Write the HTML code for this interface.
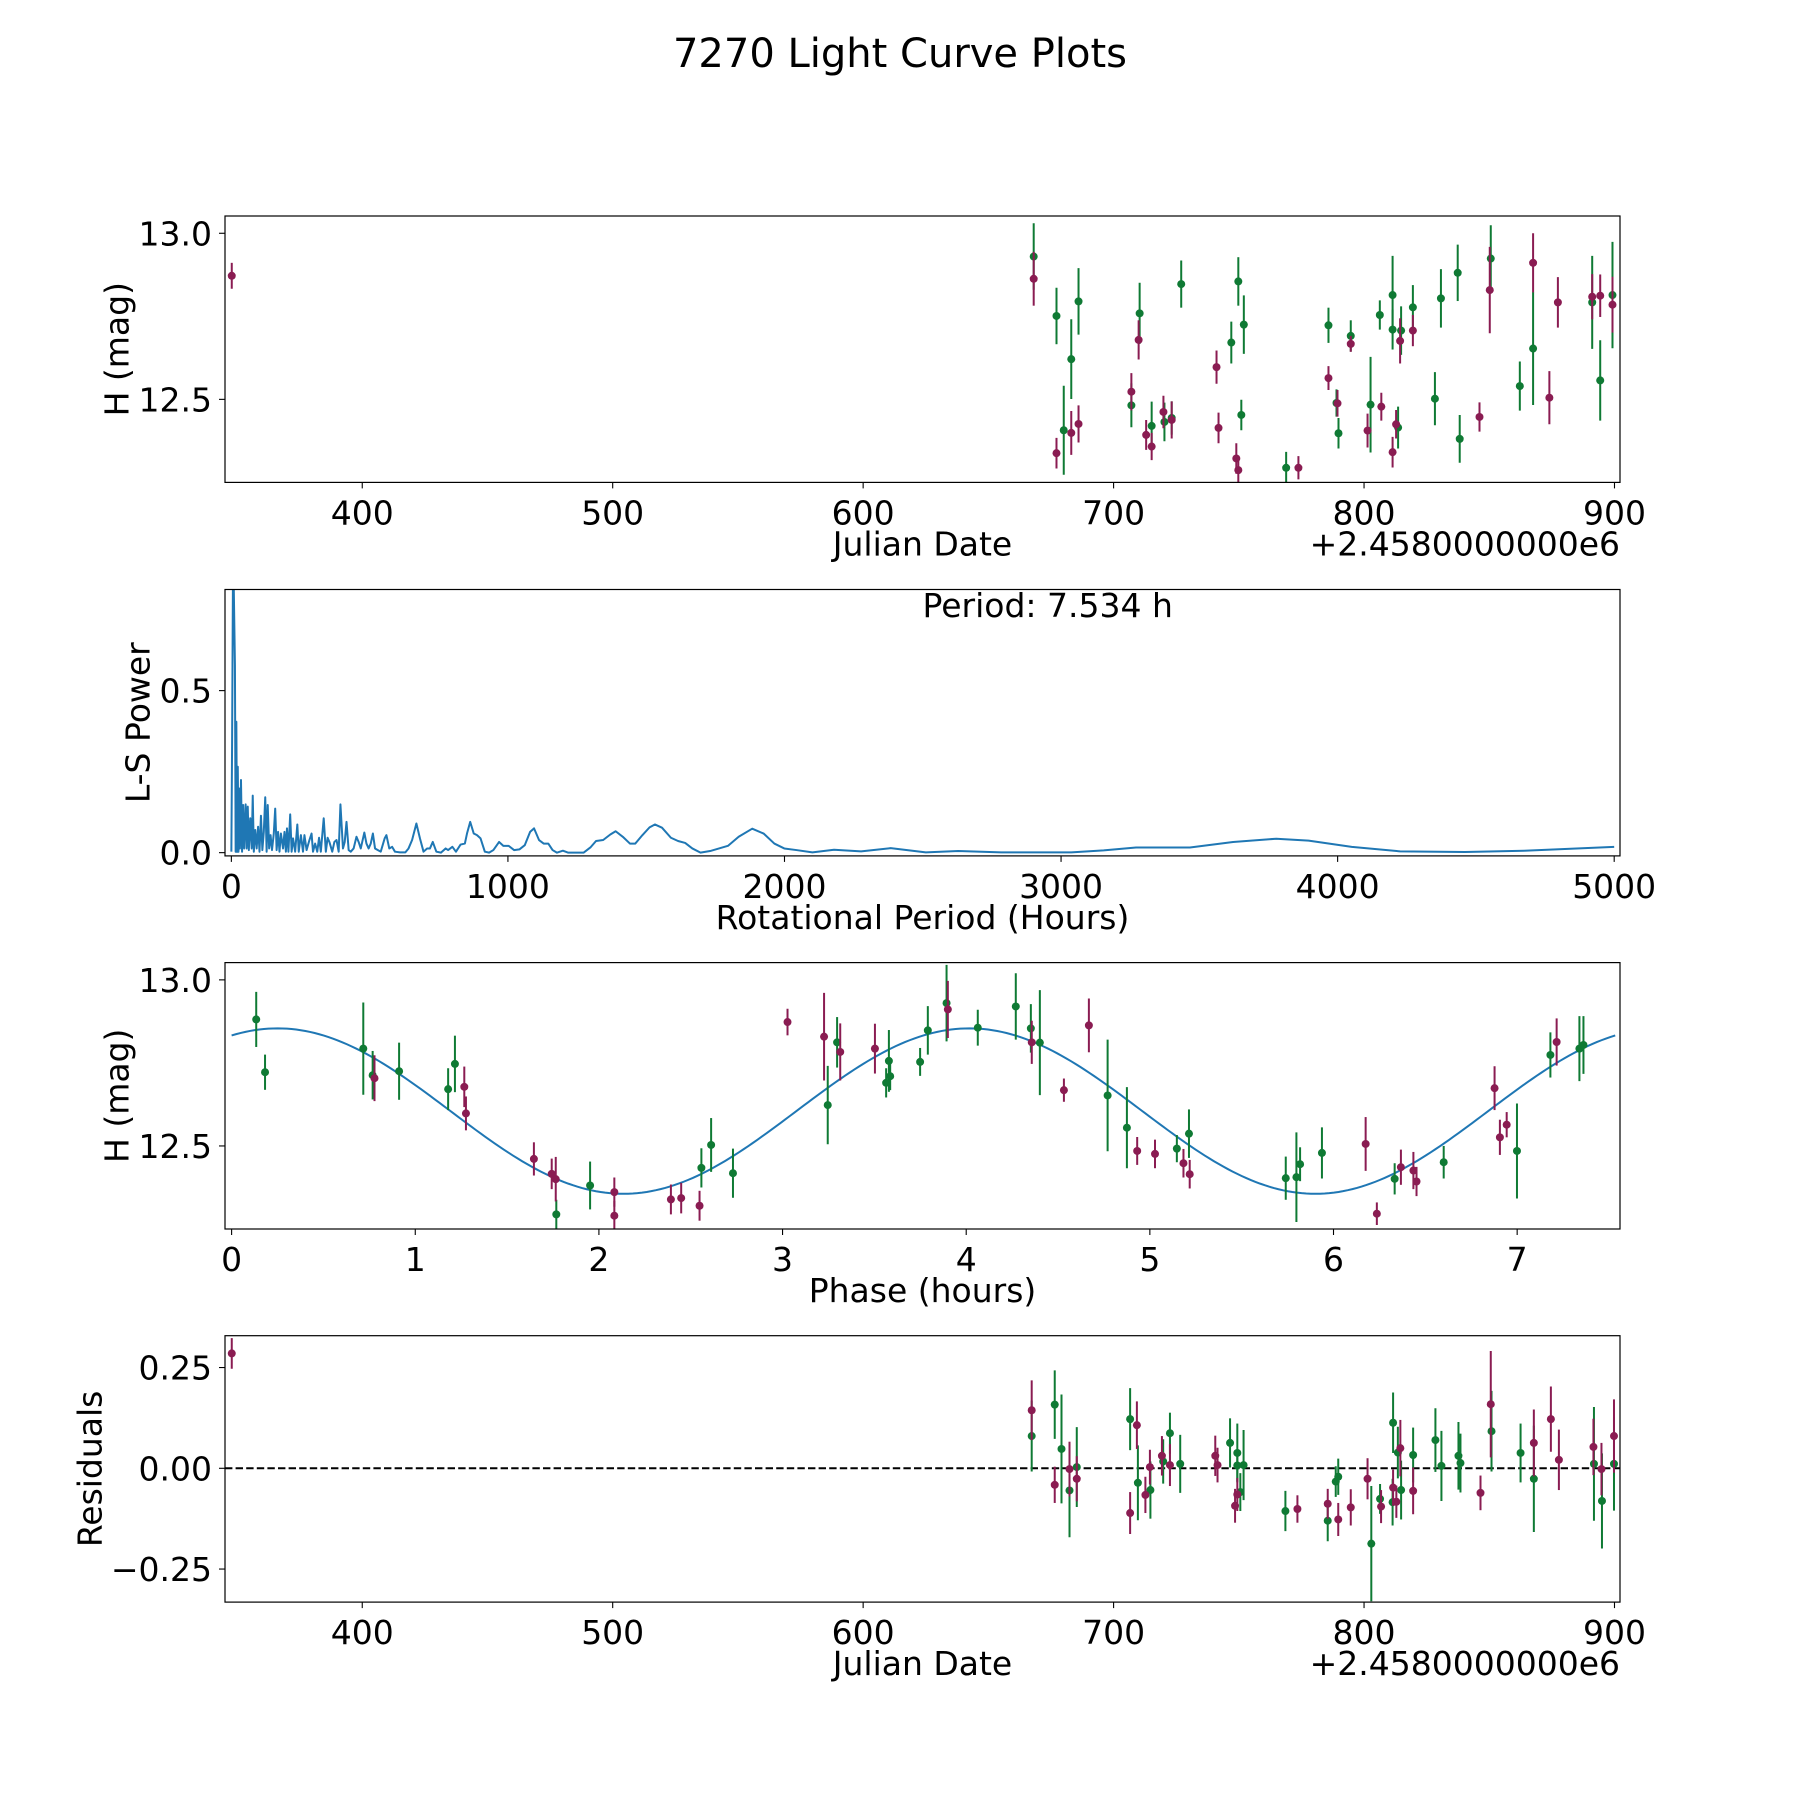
<!DOCTYPE html>
<html>
<head>
<meta charset="utf-8">
<style>
html,body{margin:0;padding:0;background:#fff;}
svg{display:block;}
text{font-family:"DejaVu Sans","Liberation Sans",sans-serif;fill:#000;}
</style>
</head>
<body>
<svg id="fig" width="1800" height="1800" viewBox="0 0 1800 1800" xmlns="http://www.w3.org/2000/svg">
<rect x="0" y="0" width="1800" height="1800" fill="#fff"/>
<text x="900" y="67" font-size="40" text-anchor="middle">7270 Light Curve Plots</text>
</svg>
<script>
// ---------- Panel 1: light curve (Julian Date) ----------
const lcJD  = [347.9,668.1,668.1,677.2,677.2,680.1,683.1,683.1,686.0,686.0,707.1,707.1,710.0,710.4,713.0,715.2,715.2,719.9,720.3,723.2,723.2,727.0,741.1,741.9,747.0,749.0,749.8,749.8,752.0,751.0,768.9,773.8,785.8,785.8,789.0,789.4,789.8,794.7,794.7,801.4,802.6,806.3,806.9,811.4,811.4,811.4,812.8,813.6,814.4,814.8,819.5,819.5,828.3,830.7,837.4,838.2,846.1,850.2,850.6,862.2,867.5,867.5,874.0,877.4,891.1,891.1,894.3,894.3,899.2,899.2];
const lcMag = [12.872,12.930,12.863,12.751,12.338,12.407,12.399,12.621,12.795,12.426,12.523,12.482,12.679,12.759,12.393,12.358,12.420,12.462,12.432,12.438,12.444,12.847,12.597,12.414,12.671,12.322,12.855,12.287,12.725,12.453,12.294,12.294,12.723,12.564,12.489,12.488,12.398,12.691,12.667,12.406,12.484,12.754,12.478,12.814,12.710,12.341,12.425,12.415,12.676,12.707,12.777,12.707,12.502,12.804,12.881,12.381,12.447,12.829,12.924,12.540,12.911,12.653,12.505,12.792,12.792,12.809,12.557,12.812,12.814,12.785];
const lcErr = [0.039,0.10,0.081,0.085,0.046,0.134,0.066,0.12,0.10,0.056,0.056,0.066,0.059,0.092,0.045,0.041,0.073,0.049,0.058,0.056,0.05,0.071,0.05,0.046,0.063,0.046,0.073,0.041,0.088,0.046,0.048,0.035,0.053,0.036,0.041,0.04,0.046,0.047,0.024,0.051,0.144,0.044,0.042,0.118,0.06,0.046,0.043,0.063,0.068,0.073,0.067,0.047,0.08,0.088,0.085,0.072,0.044,0.13,0.10,0.074,0.089,0.17,0.08,0.076,0.14,0.068,0.121,0.064,0.16,0.084];
const lcBand = ['m','g','m','g','m','g','m','g','g','m','m','g','m','g','m','m','g','m','g','m','g','g','m','m','g','m','g','m','g','g','g','m','g','m','g','m','g','g','m','m','g','g','m','g','g','m','m','g','m','g','g','m','g','g','g','g','m','m','g','g','m','g','m','m','g','m','g','m','g','m'];
const jdTicks = [400,500,600,700,800,900];
const magTicks = [12.5,13.0];
const magTickLabels = ['12.5','13.0'];

// ---------- Panel 2: Lomb-Scargle periodogram ----------
const lsPeriod = [0,2.6,6.4,12.9,15.5,18.0,20.6,23.2,25.8,28.4,30.9,34.8,38.7,42.5,46.4,51.6,55.4,59.3,63.2,68.3,73.5,77.3,81.2,86.4,91.5,96.7,101.8,107.0,112.1,117.3,122.5,127.6,131.5,136.6,141.8,146.9,153.4,158.5,163.7,168.9,174.0,179.2,186.9,192.1,197.2,201.1,206.3,212.7,217.9,223.0,230.7,238.5,243.6,251.4,259.1,264.2,272.0,282.3,290.0,295.2,302.9,310.6,317.1,323.5,333.9,341.6,348.0,354.5,364.8,372.5,380.3,388.0,394.4,403.5,409.9,416.3,424.1,431.8,442.1,452.4,460.2,467.9,480.8,488.5,496.3,504.0,511.7,519.5,529.8,540.1,554.3,560.7,571.0,581.3,591.6,609.7,629.0,640.6,653.5,669.0,681.9,694.8,707.7,718.0,728.3,741.2,757.9,774.7,783.7,799.2,812.1,828.8,844.3,852.0,863.6,876.5,888.1,901.0,916.5,932.0,947.4,968.1,983.5,1002.8,1022.2,1041.5,1060.8,1080.2,1094.4,1112.4,1129.2,1145.9,1161.4,1176.9,1198.8,1218.1,1241.3,1273.5,1299.3,1318.6,1344.4,1370.2,1389.5,1415.3,1441.1,1460.4,1486.2,1512.0,1531.3,1557.1,1589.3,1615.1,1640.9,1666.7,1696.3,1731.1,1763.4,1795.6,1834.3,1883.3,1924.5,1963.2,1999.2,2043,2101,2179,2277,2384,2511,2628,2784,2920,3037,3154,3271,3466,3622,3778,3895,4051,4226,4460,4674,5000];
const lsPower  = [0.003,0.332,0.95,0.579,0.003,0.404,0.003,0.265,0.003,0.198,0.013,0.224,0.003,0.147,0.013,0.149,0.013,0.142,0.008,0.106,0.013,0.176,0.003,0.07,0.013,0.08,0.003,0.114,0.008,0.064,0.171,0.003,0.147,0.013,0.054,0.008,0.059,0.136,0.008,0.064,0.003,0.059,0.013,0.064,0.003,0.075,0.003,0.118,0.003,0.044,0.003,0.087,0.003,0.054,0.003,0.054,0.008,0.039,0.059,0.003,0.028,0.003,0.046,0.003,0.106,0.003,0.046,0.033,0.003,0.033,0.039,0.003,0.149,0.013,0.033,0.095,0.008,0.003,0.013,0.049,0.033,0.013,0.062,0.028,0.013,0.028,0.059,0.013,0.008,0.003,0.044,0.054,0.013,0.018,0.003,0.001,0.001,0.013,0.039,0.09,0.044,0.003,0.013,0.013,0.033,0.003,0.0,0.013,0.008,0.018,0.003,0.025,0.028,0.059,0.095,0.059,0.054,0.044,0.003,0.0,0.008,0.033,0.021,0.021,0.008,0.01,0.023,0.064,0.075,0.039,0.028,0.028,0.008,0.0,0.006,0.0,0.0,0.0,0.017,0.036,0.039,0.056,0.066,0.049,0.028,0.028,0.054,0.078,0.087,0.077,0.046,0.036,0.030,0.013,0.0,0.005,0.013,0.021,0.049,0.074,0.059,0.028,0.013,0.008,0.001,0.009,0.004,0.014,0.001,0.005,0.001,0.001,0.001,0.007,0.016,0.016,0.033,0.043,0.037,0.018,0.004,0.002,0.006,0.018];
const periodTicks = [0,1000,2000,3000,4000,5000];
const powerTicks = [0.0,0.5];
const powerTickLabels = ['0.0','0.5'];
const periodLabel = 'Period: 7.534 h';

// ---------- Panel 3: phased light curve ----------
const phHours = [0.134,0.182,0.717,0.768,0.778,0.912,1.179,1.216,1.267,1.276,1.646,1.743,1.765,1.768,1.952,2.084,2.084,2.392,2.448,2.548,2.558,2.611,2.730,3.027,3.226,3.246,3.297,3.314,3.503,3.579,3.564,3.586,3.749,3.791,3.893,3.900,4.063,4.270,4.352,4.357,4.401,4.532,4.668,4.770,4.875,4.931,5.028,5.147,5.183,5.213,5.217,5.740,5.798,5.818,5.937,6.175,6.236,6.333,6.367,6.435,6.452,6.600,6.877,6.906,6.943,6.999,7.181,7.215,7.339,7.361];
const phMag = [12.881,12.722,12.793,12.713,12.704,12.725,12.671,12.747,12.678,12.598,12.461,12.416,12.400,12.294,12.381,12.361,12.290,12.339,12.343,12.320,12.434,12.503,12.418,12.873,12.829,12.623,12.812,12.783,12.793,12.756,12.690,12.710,12.753,12.848,12.930,12.911,12.856,12.920,12.854,12.812,12.811,12.668,12.863,12.652,12.555,12.485,12.476,12.492,12.448,12.537,12.415,12.403,12.406,12.445,12.479,12.506,12.296,12.401,12.436,12.426,12.393,12.451,12.674,12.526,12.564,12.485,12.774,12.813,12.793,12.804];
const phErr = [0.083,0.053,0.139,0.073,0.069,0.086,0.063,0.085,0.061,0.051,0.050,0.046,0.067,0.044,0.072,0.044,0.045,0.045,0.046,0.045,0.059,0.081,0.074,0.040,0.132,0.118,0.076,0.086,0.075,0.093,0.044,0.042,0.042,0.073,0.115,0.086,0.054,0.10,0.073,0.065,0.158,0.035,0.081,0.168,0.122,0.042,0.043,0.041,0.043,0.073,0.043,0.065,0.135,0.051,0.077,0.081,0.034,0.047,0.053,0.056,0.044,0.049,0.066,0.053,0.038,0.143,0.068,0.071,0.098,0.087];
const phBand = ['g','g','g','g','m','g','g','g','m','m','m','m','m','g','g','m','m','m','m','m','g','g','g','m','m','g','g','m','m','g','g','g','g','g','g','m','g','g','g','m','g','m','m','g','g','m','m','g','m','g','m','g','g','g','g','m','m','g','m','m','m','g','m','m','m','g','g','m','g','g'];
const fitParams = [12.605, 0.249, 3.767, 0.25]; // mean, amplitude, harmonic period (h), phase of max (h)
const rotPeriod = [7.534];
const phaseTicks = [0,1,2,3,4,5,6,7];

// ---------- Panel 4: residuals ----------
const resJD  = [347.9,667.3,667.3,676.5,676.5,679.2,682.4,682.4,685.3,685.3,706.6,706.6,709.3,709.7,712.7,714.5,714.7,719.3,719.8,722.5,722.5,726.6,740.6,741.5,746.5,749.4,748.5,749.4,750.6,749.4,751.9,768.6,773.4,785.5,785.5,788.7,789.7,789.7,794.7,801.4,802.9,806.4,806.8,811.6,811.6,811.4,812.9,813.5,814.5,814.8,819.6,819.6,828.5,830.9,837.7,838.5,846.5,850.6,850.9,862.5,867.8,867.8,874.6,877.8,891.6,891.8,894.8,895.0,899.8,899.8];
const resVal = [0.285,0.144,0.080,0.158,-0.041,0.048,-0.002,-0.055,0.003,-0.026,0.122,-0.111,0.107,-0.036,-0.066,0.003,-0.054,0.031,0.017,0.087,0.008,0.011,0.031,0.008,0.063,0.038,-0.093,-0.065,-0.059,0.007,0.008,-0.106,-0.101,-0.088,-0.130,-0.033,-0.021,-0.127,-0.097,-0.026,-0.187,-0.076,-0.095,0.113,-0.048,-0.084,-0.083,0.039,0.050,-0.054,0.033,-0.056,0.070,0.006,0.031,0.013,-0.061,0.159,0.092,0.038,0.063,-0.026,0.122,0.021,0.053,0.011,-0.002,-0.081,0.080,0.011];
const resErr = [0.038,0.074,0.088,0.085,0.045,0.135,0.068,0.116,0.099,0.056,0.077,0.052,0.059,0.093,0.045,0.043,0.071,0.049,0.055,0.051,0.052,0.072,0.050,0.043,0.061,0.073,0.042,0.041,0.047,0.04,0.087,0.050,0.034,0.037,0.051,0.038,0.045,0.041,0.045,0.051,0.143,0.037,0.041,0.075,0.045,0.058,0.040,0.064,0.070,0.073,0.068,0.058,0.079,0.087,0.084,0.073,0.043,0.132,0.100,0.073,0.083,0.132,0.081,0.075,0.070,0.141,0.065,0.118,0.091,0.116];
const resBand = ['m','m','g','g','m','g','m','g','g','m','g','m','m','g','m','m','g','m','g','g','m','g','m','m','g','g','m','m','g','g','g','g','m','m','g','g','g','m','m','m','g','g','m','g','m','g','m','g','m','g','g','m','g','g','g','g','m','m','g','g','m','g','m','m','m','g','m','g','m','g'];
const resTicks = [-0.25,0.0,0.25];
const resTickLabels = ['\u22120.25','0.00','0.25'];

// ---------- rendering ----------
const NS = 'http://www.w3.org/2000/svg';
const svg = document.getElementById('fig');
const COLORS = {g:'#0f7a34', m:'#8a1c52'};
const LEFT = 225, RIGHT = 1620, H = 266.4;

function mk(tag, attrs, parent) {
  const e = document.createElementNS(NS, tag);
  for (const k in attrs) e.setAttribute(k, attrs[k]);
  (parent || svg).appendChild(e);
  return e;
}
function linScale(d0, d1, r0, r1) { return v => r0 + (v - d0) / (d1 - d0) * (r1 - r0); }

function makeAxes(name, top, xlim, ylim) {
  const g = mk('g', {});
  
  
  const cid = 'clip-' + name;
  const cp = mk('clipPath', {id: cid}, g);
  mk('rect', {x: LEFT, y: top, width: RIGHT - LEFT, height: H}, cp);
  const plot = mk('g', {'clip-path': 'url(#' + cid + ')'}, g);
  
  
  return {g, plot, top, bottom: top + H,
    x: linScale(xlim[0], xlim[1], LEFT, RIGHT),
    y: linScale(ylim[0], ylim[1], top + H, top)};
}
function frame(ax, name) {
  const r = mk('rect', {x: LEFT, y: ax.top, width: RIGHT - LEFT, height: H, fill: 'none', stroke: '#000', 'stroke-width': 1.2}, ax.g);
  
  
}
function xTicks(ax, vals, labels, name) {
  vals.forEach((v, i) => {
    const px = ax.x(v);
    const t = mk('line', {x1: px, x2: px, y1: ax.bottom, y2: ax.bottom + 6, stroke: '#000', 'stroke-width': 1.1}, ax.g);
    
    
    const l = mk('text', {x: px, y: ax.bottom + 42, 'font-size': 33, 'text-anchor': 'middle'}, ax.g);
    l.textContent = labels[i];
    
    
  });
}
function yTicks(ax, vals, labels, name) {
  vals.forEach((v, i) => {
    const py = ax.y(v);
    const t = mk('line', {x1: LEFT - 6, x2: LEFT, y1: py, y2: py, stroke: '#000', 'stroke-width': 1.1}, ax.g);
    
    
    const l = mk('text', {x: 212, y: py + 12, 'font-size': 33, 'text-anchor': 'end'}, ax.g);
    l.textContent = labels[i];
    
    
  });
}
function xLabel(ax, txt, name) {
  const l = mk('text', {x: (LEFT + RIGHT) / 2, y: ax.bottom + 73, 'font-size': 33, 'text-anchor': 'middle'}, ax.g);
  l.textContent = txt;
  
  
}
function yLabel(ax, txt, cx, name) {
  const cy = ax.top + H / 2;
  const l = mk('text', {x: cx, y: cy, 'font-size': 33, 'text-anchor': 'middle', 'dominant-baseline': 'central', transform: 'rotate(-90 ' + cx + ' ' + cy + ')'}, ax.g);
  l.textContent = txt;
  
  
}
function offsetText(ax, name) {
  const l = mk('text', {x: RIGHT, y: ax.bottom + 73, 'font-size': 33, 'text-anchor': 'end'}, ax.g);
  l.textContent = '+2.4580000000e6';
  
  
}
function errPoints(ax, xs, ys, es, bands, name) {
  ['g', 'm'].forEach(b => {
    xs.forEach((xv, i) => {
      if (bands[i] !== b) return;
      const px = ax.x(xv), py = ax.y(ys[i]);
      const bar = mk('line', {x1: px, x2: px, y1: ax.y(ys[i] - es[i]), y2: ax.y(ys[i] + es[i]), stroke: COLORS[b], 'stroke-width': 2}, ax.plot);
      
      
      const c = mk('circle', {cx: px, cy: py, r: 4, fill: COLORS[b]}, ax.plot);
      
      
    });
  });
}

// Panel 1
const ax1 = makeAxes('light-curve-panel', 216, [345.2, 902.2], [12.25, 13.052]);
errPoints(ax1, lcJD, lcMag, lcErr, lcBand, 'light-curve');
frame(ax1, 'light-curve');
xTicks(ax1, jdTicks, jdTicks.map(String), 'light-curve');
yTicks(ax1, magTicks, magTickLabels, 'light-curve');
xLabel(ax1, 'Julian Date', 'light-curve');
yLabel(ax1, 'H (mag)', 117, 'light-curve');
offsetText(ax1, 'light-curve');

// Panel 2
const ax2 = makeAxes('periodogram-panel', 589.5, [-23, 5021], [-0.01, 0.812]);
let d = '';
lsPeriod.forEach((p, i) => { d += (i ? 'L' : 'M') + ax2.x(p).toFixed(2) + ' ' + ax2.y(lsPower[i]).toFixed(2); });
const ls = mk('path', {d: d, fill: 'none', stroke: '#1f77b4', 'stroke-width': 2, 'stroke-linejoin': 'round'}, ax2.plot);


frame(ax2, 'periodogram');
xTicks(ax2, periodTicks, periodTicks.map(String), 'periodogram');
yTicks(ax2, powerTicks, powerTickLabels, 'periodogram');
xLabel(ax2, 'Rotational Period (Hours)', 'periodogram');
yLabel(ax2, 'L-S Power', 138, 'periodogram');
const pt = mk('text', {x: (LEFT + RIGHT) / 2, y: 617, 'font-size': 33, 'text-anchor': 'start'}, ax2.g);
pt.textContent = periodLabel;



// Panel 3
const ax3 = makeAxes('phase-panel', 962.6, [-0.036, 7.56], [12.25, 13.052]);
let fd = '';
const N = 300;
for (let k = 0; k <= N; k++) {
  const ph = rotPeriod[0] * k / N;
  const m = fitParams[0] + fitParams[1] * Math.cos(2 * Math.PI * (ph - fitParams[3]) / fitParams[2]);
  fd += (k ? 'L' : 'M') + ax3.x(ph).toFixed(2) + ' ' + ax3.y(m).toFixed(2);
}
const fit = mk('path', {d: fd, fill: 'none', stroke: '#1f77b4', 'stroke-width': 2}, ax3.plot);


errPoints(ax3, phHours, phMag, phErr, phBand, 'phase');
frame(ax3, 'phase');
xTicks(ax3, phaseTicks, phaseTicks.map(String), 'phase');
yTicks(ax3, magTicks, magTickLabels, 'phase');
xLabel(ax3, 'Phase (hours)', 'phase');
yLabel(ax3, 'H (mag)', 117, 'phase');

// Panel 4
const ax4 = makeAxes('residuals-panel', 1335.7, [345.2, 902.2], [-0.332, 0.329]);
const zl = mk('line', {x1: LEFT, x2: RIGHT, y1: ax4.y(0), y2: ax4.y(0), stroke: '#000', 'stroke-width': 2, 'stroke-dasharray': '7.4 3.2'}, ax4.plot);


errPoints(ax4, resJD, resVal, resErr, resBand, 'residuals');
frame(ax4, 'residuals');
xTicks(ax4, jdTicks, jdTicks.map(String), 'residuals');
yTicks(ax4, resTicks, resTickLabels, 'residuals');
xLabel(ax4, 'Julian Date', 'residuals');
yLabel(ax4, 'Residuals', 90, 'residuals');
offsetText(ax4, 'residuals');
</script>
</body>
</html>
